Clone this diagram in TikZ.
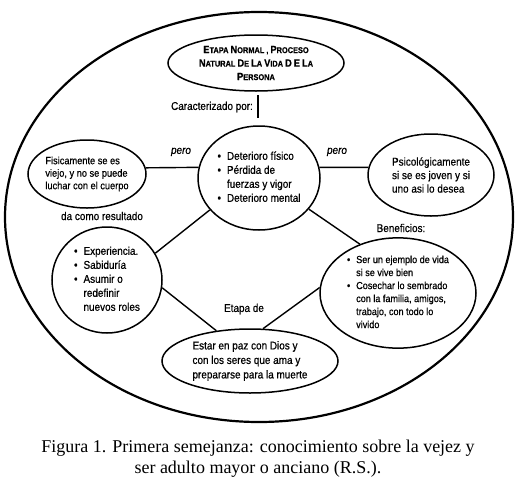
\documentclass[tikz,border=0pt]{standalone}
\usepackage{fontspec}
\setmainfont{Liberation Sans}[FakeStretch=0.88,FakeBold=0.6]
\newfontfamily\piefont{Liberation Serif}
\usetikzlibrary{shapes.geometric}

\tikzset{
  burbuja/.style={draw, ellipse, line width=1.5pt, inner sep=0pt, align=center},
  enlace/.style={line width=1.4pt},
  rotulo/.style={inner sep=1pt, font=\fontsize{11.3}{13}\selectfont},
}
\newcommand\sce[2]{{\fontsize{10.5}{11}\selectfont #1}#2}
\newcommand\lista[1]{\begin{tabular}{@{}c@{\hspace{6pt}}l@{}}#1\end{tabular}}
\newcommand\vin{\textbullet}

\begin{document}
\begin{tikzpicture}[x=1pt,y=-1pt]
\useasboundingbox (0,0) rectangle (517,493);

% elipse exterior
\draw[line width=2.2pt] (259,217) ellipse (254pt and 205pt);

\node[burbuja, minimum width=176pt, minimum height=56pt,
  font=\bfseries\fontsize{8.4}{13.5}\selectfont] (etapa) at (256,63)
  {\sce{E}{TAPA} \sce{N}{ORMAL} , \sce{P}{ROCESO}\\
   \sce{N}{ATURAL} \sce{D}{E} \sce{L}{A} \sce{V}{IDA} \sce{D}{} \sce{E}{} \sce{L}{A}\\
   \sce{P}{ERSONA}};

\coordinate (trazoa) at (258,95);
\coordinate (trazob) at (258,118);
\draw[enlace] (trazoa) -- (trazob);
\node[rotulo] (caract) at (212,107) {Caracterizado por:};

\node[burbuja, minimum width=122pt, minimum height=104pt,
  font=\fontsize{11.3}{14}\selectfont] (centro) at (259,178)
  {\lista{\vin & Deterioro físico\\ \vin & Pérdida de\\ & fuerzas y vigor\\ \vin & Deterioro mental}};

\node[burbuja, minimum width=118pt, minimum height=68pt,
  font=\fontsize{10.5}{12.5}\selectfont, align=left] (fisico) at (87,174)
  {Fisicamente se es\\ viejo, y no se puede\\ luchar con el cuerpo};

\node[burbuja, minimum width=126pt, minimum height=82pt,
  font=\fontsize{11.3}{13.5}\selectfont, align=left] (psico) at (431,175)
  {Psicológicamente\\ si se es joven y si\\ uno asi lo desea};

\node[burbuja, minimum width=110pt, minimum height=106pt,
  font=\fontsize{11.3}{14}\selectfont] (exper) at (107,280)
  {\lista{\vin & Experiencia.\\ \vin & Sabiduría\\ \vin & Asumir o\\ & redefinir\\ & nuevos roles}};

\node[burbuja, minimum width=156pt, minimum height=110pt,
  font=\fontsize{10.3}{13}\selectfont] (benef) at (398,293)
  {\lista{\vin & Ser un ejemplo de vida\\ & si se vive bien\\ \vin & Cosechar lo sembrado\\
   & con la familia, amigos,\\ & trabajo, con todo lo\\ & vivido}};

\node[burbuja, minimum width=176pt, minimum height=64pt,
  font=\fontsize{11.3}{14.5}\selectfont, align=left] (paz) at (250,361)
  {Estar en paz con Dios y\\ con los seres que ama y\\ prepararse para la muerte};

% conectores
\draw[enlace] (fisico.6) -- (centro.170);
\draw[enlace] (centro.10) -- (psico.173);
\draw[enlace] (centro.213) -- (exper.29);
\draw[enlace] (centro.-32) -- (benef.128);
\draw[enlace] (exper.-8) -- (paz.138);
\draw[enlace] (paz.68) -- (benef.176);

\node[rotulo, font=\itshape\fontsize{11.3}{13}\selectfont] (peroa) at (181,152) {pero};
\node[rotulo, font=\itshape\fontsize{11.3}{13}\selectfont] (perob) at (337,152) {pero};
\node[rotulo] (result) at (102,216) {da como resultado};
\node[rotulo] (benefi) at (401,228) {Beneficios:};
\node[rotulo] (etapade) at (244,309) {Etapa de};

\node[inner sep=0pt, align=center, font=\piefont\fontsize{18}{21}\selectfont] (pie) at (258,459)
  {Figura 1. Primera semejanza: conocimiento sobre la vejez y\\ ser adulto mayor o anciano (R.S.).};
\end{tikzpicture}
\end{document}
